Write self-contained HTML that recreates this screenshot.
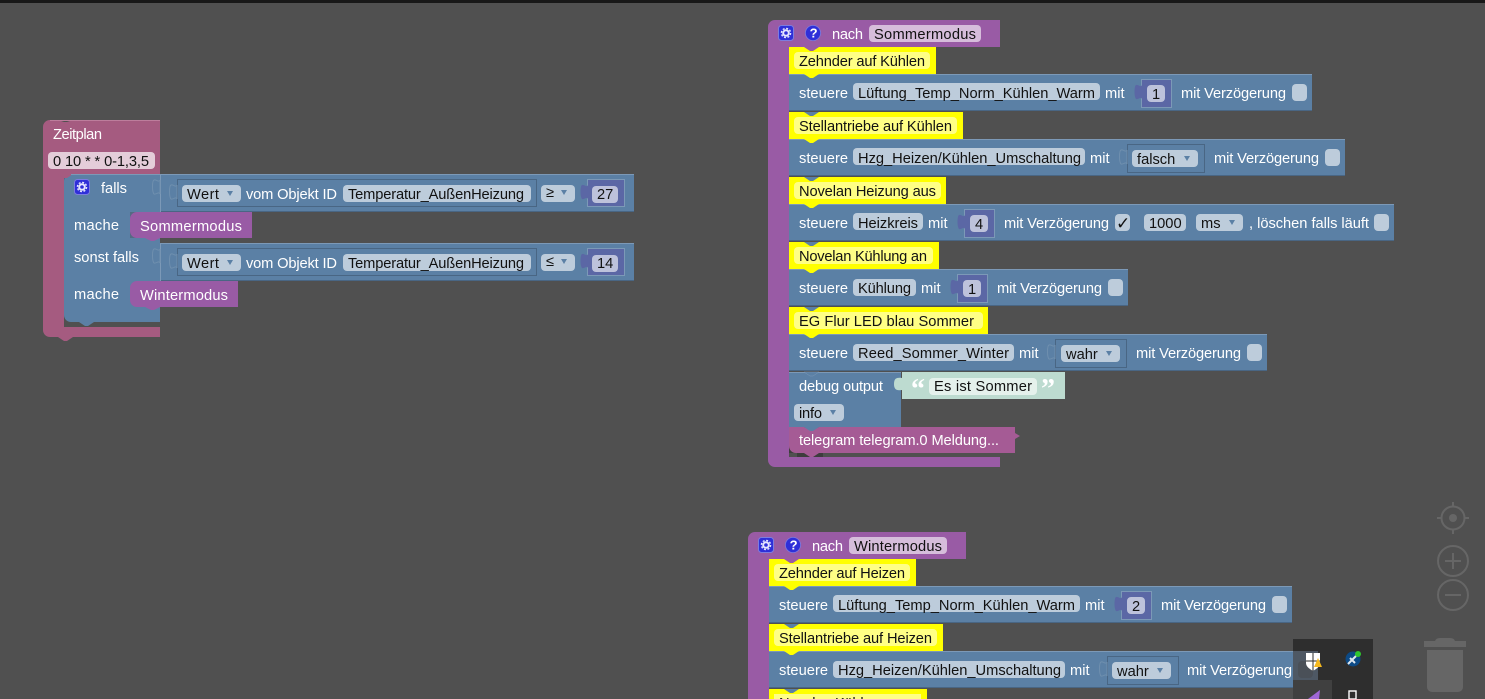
<!DOCTYPE html>
<html><head><meta charset="utf-8"><style>
html,body{margin:0;padding:0;background:#505050;width:1485px;height:699px;overflow:hidden}
svg{display:block;position:absolute;left:0;top:0}
text{font-family:"Liberation Sans",sans-serif;font-size:14.67px;white-space:pre}
.w{fill:#fff}.k{fill:#111}
.b{fill:#5b80a5}.p{fill:#995ba5}.y{fill:#ff0}.n{fill:#5b67a5}
.pb{fill:#bdccdb}.py{fill:#ffff85}.pp{fill:#d6bddb}.pn{fill:#bdc2db}
.hl{stroke:#7c99b7;stroke-width:1}.dl{stroke:#496684;stroke-width:1}
.o{fill:none;stroke:#496684;stroke-width:1}
.c{fill:#666}
.cs{fill:none;stroke:#666;stroke-width:2}
</style></head><body>
<svg width="1485" height="699" viewBox="0 0 1485 699" xmlns="http://www.w3.org/2000/svg">
<defs>
<g id="gear"><rect x="0.5" y="0.5" width="15" height="15" rx="3" fill="#2f2fd8" stroke="#7c7ce0"/><circle cx="8" cy="8" r="2.8" fill="none" stroke="#e6e6ff" stroke-width="2"/><circle cx="8" cy="8" r="4.6" fill="none" stroke="#e6e6ff" stroke-width="1.4" stroke-dasharray="2 1.61"/></g>
<g id="help"><circle cx="8" cy="8" r="7.6" fill="#2f2fd8" stroke="#7c7ce0" stroke-width="0.8"/><text x="4.6" y="12.6" style="font-size:13px;font-weight:bold" fill="#fff">?</text></g>
<path id="tabb" d="M0,0 c-1,3 -4,-1 -6,0 c-2,1 -2,12 0,14 c2,1 5,-3 6,0 Z"/>
</defs>
<rect x="0" y="0" width="1485" height="3" fill="#181818"/>

<!-- Zeitplan -->
<path d="M43,127 a7,7 0 0 1 7,-7 h8 l6,2 h3 l6,-2 h87 v54 h-96 v153 h96 v10 h-87 l-6,4 h-3 l-6,-4 h-8 a7,7 0 0 1 -7,-7 Z" fill="#a55b80"/>
<line x1="50" y1="120.5" x2="160" y2="120.5" stroke="#bd7d9c"/>
<rect x="48" y="152" width="107" height="17" rx="4" fill="#e4cdd9"/>
<text class="w" x="53" y="139" textLength="49">Zeitplan</text>
<text class="k" x="53" y="166" textLength="96">0 10 * * 0-1,3,5</text>
<path d="M64,181 a7,7 0 0 1 7,-7 h89 v148 h-89 a7,7 0 0 1 -7,-7 Z" class="b"/>
<polygon points="79,322 85,326 88,326 94,322" class="b"/>
<polygon points="58,174 64,178 67,178 73,174" fill="#a55b80"/>
<line x1="71" y1="174.5" x2="160" y2="174.5" class="hl"/>
<use href="#gear" x="74" y="179"/>
<text class="w" x="101" y="193" textLength="26">falls</text>
<text class="w" x="74" y="230" textLength="45">mache</text>
<text class="w" x="74" y="262" textLength="65">sonst falls</text>
<text class="w" x="74" y="299" textLength="45">mache</text>
<rect x="130" y="212" width="30" height="26" fill="#464646" opacity=".35"/>
<path d="M137,212 h115 v26 h-92 l-6,3 h-3 l-6,-3 h-8 a7,7 0 0 1 -7,-7 v-12 a7,7 0 0 1 7,-7 Z" class="p"/>
<path d="M137,281 h101 v26 h-78 l-6,3 h-3 l-6,-3 h-8 a7,7 0 0 1 -7,-7 v-12 a7,7 0 0 1 7,-7 Z" class="p"/>
<text class="w" x="140" y="231" textLength="102">Sommermodus</text>
<text class="w" x="140" y="300" textLength="88">Wintermodus</text>

<!-- condition 1 -->
<rect x="160" y="174" width="474" height="38" class="b"/>
<line x1="160" y1="174.5" x2="634" y2="174.5" class="hl"/><line x1="160" y1="211.5" x2="634" y2="211.5" class="dl"/><line x1="160.5" y1="174" x2="160.5" y2="212" class="hl"/>
<use href="#tabb" x="160" y="180" class="b" stroke="#6f8fae"/>
<rect x="177.5" y="179.5" width="359" height="27" class="o"/>
<use href="#tabb" x="177" y="185" class="b" stroke="#6f8fae"/>
<rect x="182" y="185" width="59" height="17" rx="4" class="pb"/>
<text class="k" x="187" y="199" textLength="32">Wert</text><polygon points="227,191 233,191 230,196" fill="#5b80a5"/>
<text class="w" x="246" y="199" textLength="91">vom Objekt ID</text>
<rect x="343" y="185" width="188" height="17" rx="4" class="pb"/>
<text class="k" x="348" y="199" textLength="176">Temperatur_AußenHeizung</text>
<rect x="541" y="185" width="34" height="17" rx="4" class="pb"/>
<text class="k" x="546" y="197">≥</text><polygon points="561,190 567,190 564,195" fill="#5b80a5"/>
<rect x="587.5" y="179.5" width="37" height="27" fill="#5b67a5" stroke="#7c99b7"/>
<use href="#tabb" x="588" y="185" class="n"/>
<rect x="592" y="186" width="26" height="17" rx="4" class="pn"/>
<text class="k" x="597" y="199">27</text>

<!-- condition 2 -->
<rect x="160" y="243" width="474" height="38" class="b"/>
<line x1="160" y1="243.5" x2="634" y2="243.5" class="hl"/><line x1="160" y1="280.5" x2="634" y2="280.5" class="dl"/><line x1="160.5" y1="243" x2="160.5" y2="281" class="hl"/>
<use href="#tabb" x="160" y="249" class="b" stroke="#6f8fae"/>
<rect x="177.5" y="248.5" width="359" height="27" class="o"/>
<use href="#tabb" x="177" y="254" class="b" stroke="#6f8fae"/>
<rect x="182" y="254" width="59" height="17" rx="4" class="pb"/>
<text class="k" x="187" y="268" textLength="32">Wert</text><polygon points="227,260 233,260 230,265" fill="#5b80a5"/>
<text class="w" x="246" y="268" textLength="91">vom Objekt ID</text>
<rect x="343" y="254" width="188" height="17" rx="4" class="pb"/>
<text class="k" x="348" y="268" textLength="176">Temperatur_AußenHeizung</text>
<rect x="541" y="254" width="34" height="17" rx="4" class="pb"/>
<text class="k" x="546" y="266">≤</text><polygon points="561,259 567,259 564,264" fill="#5b80a5"/>
<rect x="587.5" y="248.5" width="37" height="27" fill="#5b67a5" stroke="#7c99b7"/>
<use href="#tabb" x="588" y="254" class="n"/>
<rect x="592" y="255" width="26" height="17" rx="4" class="pn"/>
<text class="k" x="597" y="268">14</text>

<!-- nach Sommermodus -->
<path d="M768,27 a7,7 0 0 1 7,-7 h225 v27 h-211 v410 h211 v10 h-225 a7,7 0 0 1 -7,-7 Z" class="p"/>
<use href="#gear" x="778" y="25"/><use href="#help" x="805" y="25"/>
<text class="w" x="832" y="39" textLength="31">nach</text>
<rect x="869" y="25" width="112" height="17" rx="4" class="pp"/>
<text class="k" x="874" y="39" textLength="102">Sommermodus</text>

<rect x="789" y="47" width="147" height="27" class="y"/>
<polygon points="804,47 810,51 813,51 819,47" class="p"/>
<rect x="794" y="52" width="136" height="17" rx="4" class="py"/>
<text class="k" x="799" y="66" textLength="126">Zehnder auf Kühlen</text>

<rect x="789" y="74" width="523" height="37" class="b"/>
<line x1="789" y1="74.5" x2="1312" y2="74.5" class="hl"/><line x1="789" y1="110.5" x2="1312" y2="110.5" class="dl"/>
<polygon points="804,74 810,78 813,78 819,74" class="y"/>
<text class="w" x="799" y="98" textLength="49">steuere</text>
<rect x="853" y="83" width="247" height="17" rx="4" class="pb"/>
<text class="k" x="858" y="98" textLength="237">Lüftung_Temp_Norm_Kühlen_Warm</text>
<text class="w" x="1105" y="98">mit</text>
<rect x="1141.5" y="79.5" width="30" height="28" fill="#5b67a5" stroke="#7c99b7"/>
<use href="#tabb" x="1142" y="85" class="n"/>
<rect x="1147" y="85" width="18" height="17" rx="4" class="pn"/>
<text class="k" x="1152" y="99">1</text>
<text class="w" x="1181" y="98" textLength="105">mit Verzögerung</text>
<rect x="1292" y="84" width="15" height="17" rx="4" class="pb"/>

<rect x="789" y="112" width="174" height="27" class="y"/>
<polygon points="804,112 810,116 813,116 819,112" class="b"/>
<rect x="794" y="117" width="163" height="17" rx="4" class="py"/>
<text class="k" x="799" y="131" textLength="153">Stellantriebe auf Kühlen</text>

<rect x="789" y="139" width="556" height="37" class="b"/>
<line x1="789" y1="139.5" x2="1345" y2="139.5" class="hl"/><line x1="789" y1="175.5" x2="1345" y2="175.5" class="dl"/>
<polygon points="804,139 810,143 813,143 819,139" class="y"/>
<text class="w" x="799" y="163" textLength="49">steuere</text>
<rect x="853" y="148" width="232" height="17" rx="4" class="pb"/>
<text class="k" x="858" y="163" textLength="223">Hzg_Heizen/Kühlen_Umschaltung</text>
<text class="w" x="1090" y="163">mit</text>
<rect x="1127.5" y="144.5" width="77" height="28" class="o"/>
<use href="#tabb" x="1127" y="150" class="b" stroke="#6f8fae"/>
<rect x="1132" y="150" width="66" height="17" rx="4" class="pb"/>
<text class="k" x="1137" y="164">falsch</text><polygon points="1184,156 1190,156 1187,161" fill="#5b80a5"/>
<text class="w" x="1214" y="163" textLength="105">mit Verzögerung</text>
<rect x="1325" y="149" width="15" height="17" rx="4" class="pb"/>

<rect x="789" y="177" width="157" height="27" class="y"/>
<polygon points="804,177 810,181 813,181 819,177" class="b"/>
<rect x="794" y="182" width="147" height="17" rx="4" class="py"/>
<text class="k" x="799" y="196" textLength="137">Novelan Heizung aus</text>

<rect x="789" y="204" width="605" height="37" class="b"/>
<line x1="789" y1="204.5" x2="1394" y2="204.5" class="hl"/><line x1="789" y1="240.5" x2="1394" y2="240.5" class="dl"/>
<polygon points="804,204 810,208 813,208 819,204" class="y"/>
<text class="w" x="799" y="228" textLength="49">steuere</text>
<rect x="853" y="213" width="70" height="17" rx="4" class="pb"/>
<text class="k" x="858" y="228" textLength="60">Heizkreis</text>
<text class="w" x="928" y="228">mit</text>
<rect x="964.5" y="209.5" width="30" height="28" fill="#5b67a5" stroke="#7c99b7"/>
<use href="#tabb" x="965" y="215" class="n"/>
<rect x="970" y="215" width="18" height="17" rx="4" class="pn"/>
<text class="k" x="975" y="229">4</text>
<text class="w" x="1004" y="228" textLength="105">mit Verzögerung</text>
<rect x="1115" y="214" width="15" height="17" rx="4" class="pb"/>
<text class="k" x="1116" y="229" style="font-size:17px;font-family:'DejaVu Sans',sans-serif">✓</text>
<rect x="1144" y="214" width="42" height="17" rx="4" class="pb"/>
<text class="k" x="1149" y="228">1000</text>
<rect x="1196" y="214" width="47" height="17" rx="4" class="pb"/>
<text class="k" x="1201" y="228">ms</text><polygon points="1229,220 1235,220 1232,225" fill="#5b80a5"/>
<text class="w" x="1249" y="228" textLength="120">, löschen falls läuft</text>
<rect x="1374" y="214" width="15" height="17" rx="4" class="pb"/>

<rect x="789" y="242" width="150" height="27" class="y"/>
<polygon points="804,242 810,246 813,246 819,242" class="b"/>
<rect x="794" y="247" width="139" height="17" rx="4" class="py"/>
<text class="k" x="799" y="261" textLength="128">Novelan Kühlung an</text>

<rect x="789" y="269" width="339" height="37" class="b"/>
<line x1="789" y1="269.5" x2="1128" y2="269.5" class="hl"/><line x1="789" y1="305.5" x2="1128" y2="305.5" class="dl"/>
<polygon points="804,269 810,273 813,273 819,269" class="y"/>
<text class="w" x="799" y="293" textLength="49">steuere</text>
<rect x="853" y="279" width="63" height="17" rx="4" class="pb"/>
<text class="k" x="858" y="293" textLength="53">Kühlung</text>
<text class="w" x="921" y="293">mit</text>
<rect x="957.5" y="274.5" width="30" height="28" fill="#5b67a5" stroke="#7c99b7"/>
<use href="#tabb" x="958" y="280" class="n"/>
<rect x="963" y="280" width="18" height="17" rx="4" class="pn"/>
<text class="k" x="968" y="294">1</text>
<text class="w" x="997" y="293" textLength="105">mit Verzögerung</text>
<rect x="1108" y="279" width="15" height="17" rx="4" class="pb"/>

<rect x="789" y="307" width="199" height="27" class="y"/>
<polygon points="804,307 810,311 813,311 819,307" class="b"/>
<rect x="794" y="312" width="189" height="17" rx="4" class="py"/>
<text class="k" x="799" y="326" textLength="175">EG Flur LED blau Sommer</text>

<rect x="789" y="334" width="478" height="37" class="b"/>
<line x1="789" y1="334.5" x2="1267" y2="334.5" class="hl"/><line x1="789" y1="370.5" x2="1267" y2="370.5" class="dl"/>
<polygon points="804,334 810,338 813,338 819,334" class="y"/>
<text class="w" x="799" y="358" textLength="49">steuere</text>
<rect x="853" y="344" width="161" height="17" rx="4" class="pb"/>
<text class="k" x="858" y="358" textLength="151">Reed_Sommer_Winter</text>
<text class="w" x="1019" y="358">mit</text>
<rect x="1055.5" y="339.5" width="71" height="28" class="o"/>
<use href="#tabb" x="1055" y="345" class="b" stroke="#6f8fae"/>
<rect x="1061" y="345" width="59" height="17" rx="4" class="pb"/>
<text class="k" x="1066" y="359">wahr</text><polygon points="1106,351 1112,351 1109,356" fill="#5b80a5"/>
<text class="w" x="1136" y="358" textLength="105">mit Verzögerung</text>
<rect x="1247" y="344" width="15" height="17" rx="4" class="pb"/>

<rect x="789" y="372" width="112" height="55" class="b"/>
<line x1="789" y1="372.5" x2="901" y2="372.5" class="hl"/>
<polygon points="804,372 810,376 813,376 819,372" fill="#5b80a5" stroke="#7c99b7" stroke-width=".5"/>
<text class="w" x="799" y="391" textLength="84">debug output</text>
<rect x="794" y="404" width="50" height="17" rx="4" class="pb"/>
<text class="k" x="799" y="418" textLength="23">info</text><polygon points="830,410 836,410 833,415" fill="#5b80a5"/>
<rect x="902" y="372" width="163" height="27" fill="#bddbd0"/>
<path d="M902,378 C896,377 894,379 894,384 C894,389 896,391 902,390 Z" fill="#bddbd0"/>
<text class="w" x="911" y="398" style="font-family:'Liberation Serif',serif;font-size:28px;font-weight:bold">“</text>
<rect x="929" y="378" width="108" height="17" rx="4" fill="#e5f1ec"/>
<text class="k" x="934" y="391" textLength="98">Es ist Sommer</text>
<text class="w" x="1041" y="398" style="font-family:'Liberation Serif',serif;font-size:28px;font-weight:bold">”</text>

<path d="M789,440 h8 v17 a8,8 0 0 1 0,0 h26 v-4 h-34 Z" fill="#3d3d3d"/>
<path d="M789,427 h15 l6,3 h3 l6,-3 h196 v6 l5,3 l-5,3 v14 h-196 l-6,4 h-3 l-6,-4 h-8 a7,7 0 0 1 -7,-7 Z" fill="#a55b95"/>
<polygon points="804,427 810,431 813,431 819,427" class="b"/>
<text class="w" x="799" y="445" textLength="200">telegram telegram.0 Meldung...</text>

<!-- nach Wintermodus -->
<path d="M748,539 a7,7 0 0 1 7,-7 h211 v27 h-197 v140 h-21 Z" class="p"/>
<use href="#gear" x="758" y="537"/><use href="#help" x="785" y="537"/>
<text class="w" x="812" y="551" textLength="31">nach</text>
<rect x="849" y="537" width="98" height="17" rx="4" class="pp"/>
<text class="k" x="854" y="551" textLength="88">Wintermodus</text>

<rect x="769" y="559" width="147" height="27" class="y"/>
<polygon points="784,559 790,563 793,563 799,559" class="p"/>
<rect x="774" y="564" width="136" height="17" rx="4" class="py"/>
<text class="k" x="779" y="578" textLength="126">Zehnder auf Heizen</text>

<rect x="769" y="586" width="523" height="37" class="b"/>
<line x1="769" y1="586.5" x2="1292" y2="586.5" class="hl"/><line x1="769" y1="622.5" x2="1292" y2="622.5" class="dl"/>
<polygon points="784,586 790,590 793,590 799,586" class="y"/>
<text class="w" x="779" y="610" textLength="49">steuere</text>
<rect x="833" y="595" width="247" height="17" rx="4" class="pb"/>
<text class="k" x="838" y="610" textLength="237">Lüftung_Temp_Norm_Kühlen_Warm</text>
<text class="w" x="1085" y="610">mit</text>
<rect x="1121.5" y="591.5" width="30" height="28" fill="#5b67a5" stroke="#7c99b7"/>
<use href="#tabb" x="1122" y="597" class="n"/>
<rect x="1127" y="597" width="18" height="17" rx="4" class="pn"/>
<text class="k" x="1132" y="611">2</text>
<text class="w" x="1161" y="610" textLength="105">mit Verzögerung</text>
<rect x="1272" y="596" width="15" height="17" rx="4" class="pb"/>

<rect x="769" y="624" width="174" height="27" class="y"/>
<polygon points="784,624 790,628 793,628 799,624" class="b"/>
<rect x="774" y="629" width="163" height="17" rx="4" class="py"/>
<text class="k" x="779" y="643" textLength="153">Stellantriebe auf Heizen</text>

<rect x="769" y="651" width="549" height="37" class="b"/>
<line x1="769" y1="651.5" x2="1318" y2="651.5" class="hl"/><line x1="769" y1="687.5" x2="1318" y2="687.5" class="dl"/>
<polygon points="784,651 790,655 793,655 799,651" class="y"/>
<text class="w" x="779" y="675" textLength="49">steuere</text>
<rect x="833" y="661" width="232" height="17" rx="4" class="pb"/>
<text class="k" x="838" y="675" textLength="223">Hzg_Heizen/Kühlen_Umschaltung</text>
<text class="w" x="1070" y="675">mit</text>
<rect x="1107.5" y="656.5" width="71" height="28" class="o"/>
<use href="#tabb" x="1107" y="662" class="b" stroke="#6f8fae"/>
<rect x="1112" y="662" width="59" height="17" rx="4" class="pb"/>
<text class="k" x="1117" y="676">wahr</text><polygon points="1157,668 1163,668 1160,673" fill="#5b80a5"/>
<text class="w" x="1187" y="675" textLength="105">mit Verzögerung</text>
<rect x="1298" y="661" width="15" height="17" rx="4" class="pb"/>

<rect x="769" y="689" width="158" height="10" class="y"/>
<polygon points="784,689 790,693 793,693 799,689" class="b"/>
<rect x="774" y="694" width="147" height="5" class="py"/>
<text class="k" x="779" y="708" textLength="128">Novelan Kühlung an</text>

<!-- tray overlay -->
<rect x="1293" y="639" width="80" height="60" fill="#2d2d2d" opacity=".97"/>
<rect x="1293" y="651" width="25" height="37" fill="#5a6675" opacity=".75"/>
<rect x="1298" y="661" width="15" height="17" rx="4" fill="#4a5058"/>
<rect x="1293" y="680" width="39" height="19" fill="#404040"/>
<path d="M1306,653 h14 v10 c0,4 -4,6 -7,8 c-3,-2 -7,-4 -7,-8 Z" fill="#fff"/>
<path d="M1313,653 v18 M1306,661 h14" stroke="#2d2d2d" stroke-width="1"/>
<polygon points="1314,667 1322,667 1318,658" fill="#f5b81d"/>
<circle cx="1353" cy="659" r="7.5" fill="#0c4a86"/>
<path d="M1348,664 l8,-8 M1350,658 l5,5" stroke="#dfe8f0" stroke-width="2"/>
<circle cx="1358" cy="654" r="3" fill="#2fc62f"/>
<polygon points="1320,690 1308,699 1319,699" fill="#a067d6"/>
<rect x="1349" y="691" width="7" height="8" fill="none" stroke="#fff" stroke-width="1.4"/>

<!-- controls -->
<circle cx="1453" cy="518" r="11.5" class="cs"/>
<circle cx="1453" cy="518" r="4" class="c"/>
<path d="M1453,502 v5 M1453,529 v5 M1437,518 h5 M1464,518 h5" class="cs"/>
<circle cx="1453" cy="561" r="15" class="cs"/>
<path d="M1445,561 h16 M1453,553 v16" class="cs"/>
<circle cx="1453" cy="595" r="15" class="cs"/>
<path d="M1445,595 h16" class="cs"/>
<path d="M1435,641 q1,-3 5,-3 h10 q4,0 5,3 Z" class="c"/>
<rect x="1424" y="641" width="42" height="6" class="c"/>
<path d="M1427,650 h36 v37 a5,5 0 0 1 -5,5 h-26 a5,5 0 0 1 -5,-5 Z" class="c"/>
</svg>
</body></html>
